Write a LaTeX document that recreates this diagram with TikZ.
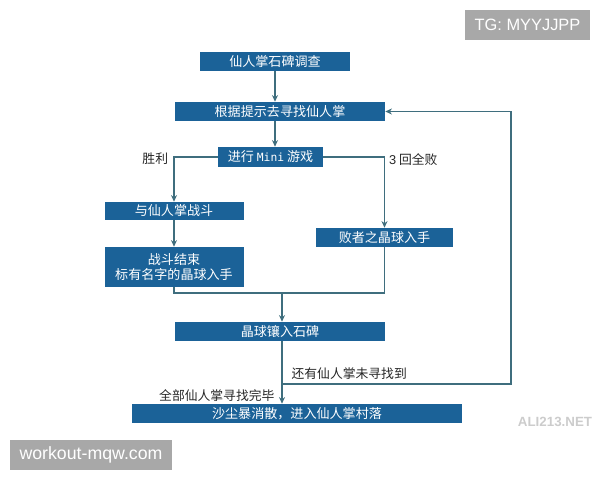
\documentclass[tikz,border=0pt]{standalone}
\usepackage{fontspec}
\setmainfont{Noto Sans CJK SC}
\newfontfamily\monofont{DejaVu Sans Mono}
\newfontfamily\latinfont{Liberation Sans}
\usetikzlibrary{positioning, calc}
\usetikzlibrary{arrows, arrows.meta}
\definecolor{boxblue}{HTML}{1B6298}
\definecolor{linegray}{HTML}{3F6E7E}
\definecolor{markgray}{HTML}{A8A8A8}
\tikzset{ stepbox/.style={
         fill=boxblue, text=white, inner sep=0pt,
         minimum height=14.25pt, font=\fontsize{9.8}{11}\selectfont, },
        flow/.style={linegray, line width=0.9pt},
        arr/.style={flow, -{Stealth[length=5pt,width=4.5pt]}},
        lbl/.style={inner sep=1pt, text=black!85, font=\fontsize{9.6}{11}\selectfont},
        tagbox/.style={fill=markgray, text=white, inner sep=0pt,
         minimum height=22.5pt, font=\latinfont\fontsize{12.3}{14}\selectfont} }

\begin{document}
\begin{tikzpicture}[x=0.75pt, y=-0.75pt]

\useasboundingbox (0,0) rectangle (600,480);

\node[stepbox, minimum width=112.5pt] (survey) at (275,61.5) {仙人掌石碑调查};
\node[stepbox, minimum width=157.5pt] (search) at (280,111.5) {根据提示去寻找仙人掌};
\node[stepbox, minimum width=78.75pt, minimum height=15pt] (game) at (270.5,157)
  {进行 {\monofont\fontsize{8.5}{10}\selectfont Mini} 游戏};
\node[stepbox, minimum width=104.25pt, minimum height=13.5pt] (fight) at (174,211) {与仙人掌战斗};
\node[stepbox, minimum width=104.25pt, minimum height=30pt, align=center] (orbwin) at (174,267)
  {战斗结束\\标有名字的晶球入手};
\node[stepbox, minimum width=102.75pt] (orblose) at (384.5,237.5) {败者之晶球入手};
\node[stepbox, minimum width=157.5pt] (tablet) at (280,331.5) {晶球镶入石碑};
\node[stepbox, minimum width=247.5pt] (village) at (297,413.5) {沙尘暴消散，进入仙人掌村落};

\coordinate (merge) at (282,293);
\coordinate (branch) at (282,384);
\coordinate (back) at (511,384);

% main line
\draw[arr] (survey.south) -- (survey.south |- search.north);
\draw[arr] (survey.south |- search.south) -- (survey.south |- game.north);
\draw[arr] (game.west) -| (fight.north)
  node[lbl, pos=0.5, anchor=east, xshift=-3pt, yshift=-1pt]{胜利};
\draw[arr] (game.east) -| (orblose.north)
  node[lbl, pos=0.5, anchor=west, xshift=2pt, yshift=-2pt]{{\latinfont 3} 回全败};
\draw[arr] (fight) -- (orbwin);
\draw[flow] (orbwin.south) |- (merge) -| (orblose.south);
\draw[arr] (merge) -- (merge |- tablet.north);
\draw[arr] (tablet.south -| branch) -- (branch |- village.north);
\draw[arr] (branch) -- (back) |- (search.east);

\node[lbl, anchor=south west] (more) at (290,381) {还有仙人掌未寻找到};
\node[lbl, anchor=east] (done) at (276,396) {全部仙人掌寻找完毕};

% marks
\node[tagbox, minimum width=93.75pt] (tg) at (527.5,25) {TG: MYYJJPP};
\node[tagbox, minimum width=121.5pt, font=\latinfont\fontsize{13.3}{15}\selectfont] (site) at (91,455) {workout-mqw.com};
\node[font=\latinfont\bfseries\fontsize{10}{12}\selectfont, text=gray!40] (ali) at (555,422) {ALI213.NET};

\end{tikzpicture}
\end{document}
